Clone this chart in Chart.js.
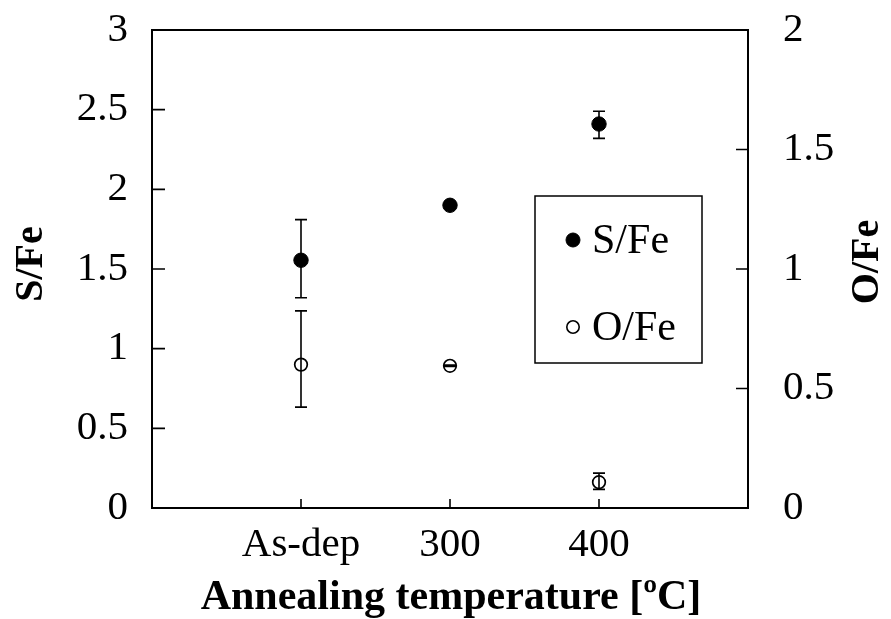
<!DOCTYPE html>
<html><head><meta charset="utf-8">
<script src="https://cdn.jsdelivr.net/npm/chart.js@4/dist/chart.umd.min.js"></script>
<style>html,body{margin:0;padding:0;background:#fff;}#wrap{width:891px;height:619px;position:relative;}</style>
</head><body><div id="wrap"><canvas id="c"></canvas></div>
<script>
// ---- data ----
const categories = ['As-dep', '300', '400'];
const xPositions = [1, 2, 3];
const sFe = [1.555, 1.90, 2.41];
const sFeErrPlus = [0.255, 0.02, 0.08];
const sFeErrMinus = [0.235, 0.02, 0.09];
const oFe = [0.60, 0.595, 0.108];
const oFeErrPlus = [0.225, 0.003, 0.038];
const oFeErrMinus = [0.178, 0.003, 0.03];
const seriesNames = ['S/Fe', 'O/Fe'];
const xTitle = 'Annealing temperature [ºC]';
const yLeftTitle = 'S/Fe';
const yRightTitle = 'O/Fe';

const FONT = '"Liberation Serif", "Times New Roman", serif';

const errsPlus = [sFeErrPlus, oFeErrPlus];
const errsMinus = [sFeErrMinus, oFeErrMinus];

const plugin = {
  id: 'custom',
  beforeDatasetsDraw(chart) {
    const ctx = chart.ctx;
    const xs = chart.scales.x;
    ctx.save();
    ctx.strokeStyle = '#000';
    ctx.lineWidth = 1.6;
    chart.data.datasets.forEach((ds, i) => {
      const ys = chart.scales[ds.yAxisID];
      ds.data.forEach((p, j) => {
        const x = xs.getPixelForValue(p.x);
        const yt = ys.getPixelForValue(p.y + errsPlus[i][j]);
        const yb = ys.getPixelForValue(p.y - errsMinus[i][j]);
        ctx.beginPath();
        ctx.moveTo(x, yt); ctx.lineTo(x, yb);
        ctx.moveTo(x - 6, yt); ctx.lineTo(x + 6, yt);
        ctx.moveTo(x - 6, yb); ctx.lineTo(x + 6, yb);
        ctx.stroke();
      });
    });
    ctx.restore();
  },
  afterDraw(chart) {
    const ctx = chart.ctx;
    const a = chart.chartArea;
    const xs = chart.scales.x, yl = chart.scales.y, yr = chart.scales.y1;
    ctx.save();
    ctx.strokeStyle = '#000';
    // ticks
    ctx.lineWidth = 1.6;
    ctx.beginPath();
    yl.ticks.forEach(t => {
      const y = yl.getPixelForValue(t.value);
      if (Math.abs(y - a.top) < 1 || Math.abs(y - a.bottom) < 1) return;
      ctx.moveTo(a.left, y); ctx.lineTo(a.left + 13, y);
    });
    yr.ticks.forEach(t => {
      const y = yr.getPixelForValue(t.value);
      if (Math.abs(y - a.top) < 1 || Math.abs(y - a.bottom) < 1) return;
      ctx.moveTo(a.right, y); ctx.lineTo(a.right - 12, y);
    });
    xs.ticks.forEach(t => {
      const x = xs.getPixelForValue(t.value);
      ctx.moveTo(x, a.bottom); ctx.lineTo(x, a.bottom - 9);
    });
    ctx.stroke();
    // frame
    ctx.lineWidth = 2;
    ctx.strokeRect(a.left, a.top, a.right - a.left, a.bottom - a.top);

    // legend
    ctx.lineWidth = 1.5;
    ctx.strokeRect(535, 196, 167, 167);
    const ly = [240, 327];
    chart.data.datasets.forEach((ds, i) => {
      ctx.beginPath();
      ctx.arc(573, ly[i], i === 0 ? 7 : 6.2, 0, Math.PI * 2);
      ctx.fillStyle = i === 0 ? '#000' : '#fff';
      ctx.fill();
      ctx.lineWidth = i === 0 ? 1 : 1.6;
      ctx.stroke();
      ctx.fillStyle = '#000';
      ctx.font = '42px ' + FONT;
      ctx.textAlign = 'left';
      ctx.textBaseline = 'middle';
      ctx.fillText(ds.label, 592, ly[i] + 2);
    });

    // titles
    ctx.fillStyle = '#000';
    ctx.font = 'bold 42px ' + FONT;
    ctx.textAlign = 'center';
    ctx.textBaseline = 'middle';
    ctx.fillText(xTitle, (a.left + a.right) / 2 + 1, 598);
    ctx.font = 'bold 40px ' + FONT;
    ctx.save();
    ctx.translate(32, 264);
    ctx.rotate(-Math.PI / 2);
    ctx.fillText(yLeftTitle, 0, 0);
    ctx.restore();
    ctx.save();
    ctx.translate(868, 262);
    ctx.rotate(-Math.PI / 2);
    ctx.fillText(yRightTitle, 0, 0);
    ctx.restore();
    ctx.restore();
  }
};

const tickFont = { family: FONT, size: 41 };
const numFmt = v => String(Math.round(v * 100) / 100);
const fixV = w => s => { s.width = w; s.paddingTop = 0; s.paddingBottom = 0; };

new Chart(document.getElementById('c'), {
  type: 'scatter',
  data: {
    datasets: [
      {
        label: seriesNames[0],
        data: xPositions.map((x, i) => ({ x: x, y: sFe[i] })),
        yAxisID: 'y',
        pointRadius: 7.2, pointHoverRadius: 7.2,
        backgroundColor: '#000', borderColor: '#000', borderWidth: 1,
        showLine: false
      },
      {
        label: seriesNames[1],
        data: xPositions.map((x, i) => ({ x: x, y: oFe[i] })),
        yAxisID: 'y1',
        pointRadius: 6.3, pointHoverRadius: 6.3,
        backgroundColor: 'rgba(0,0,0,0)', borderColor: '#000', borderWidth: 1.7,
        showLine: false
      }
    ]
  },
  options: {
    responsive: true,
    maintainAspectRatio: false,
    animation: false,
    events: [],
    layout: { padding: { top: 30, left: 0, right: 0, bottom: 0 } },
    plugins: { legend: { display: false }, tooltip: { enabled: false } },
    scales: {
      x: {
        type: 'linear', min: 0, max: 4,
        grid: { display: false, drawTicks: false },
        border: { display: false },
        afterBuildTicks: s => { s.ticks = xPositions.map(v => ({ value: v })); },
        afterFit: s => { s.height = 111; s.paddingLeft = 0; s.paddingRight = 0; },
        ticks: {
          font: tickFont, color: '#000', padding: 13, maxRotation: 0, autoSkip: false,
          callback: (v) => { const k = xPositions.indexOf(v); return k >= 0 ? categories[k] : ''; }
        }
      },
      y: {
        position: 'left', min: 0, max: 3,
        grid: { display: false, drawTicks: false },
        border: { display: false },
        afterFit: fixV(152),
        ticks: { stepSize: 0.5, font: tickFont, color: '#000', padding: 24, callback: numFmt }
      },
      y1: {
        position: 'right', min: 0, max: 2,
        grid: { display: false, drawTicks: false },
        border: { display: false },
        afterFit: fixV(143),
        ticks: { stepSize: 0.5, font: tickFont, color: '#000', padding: 35, callback: numFmt }
      }
    }
  },
  plugins: [plugin]
});
</script>
</body></html>
